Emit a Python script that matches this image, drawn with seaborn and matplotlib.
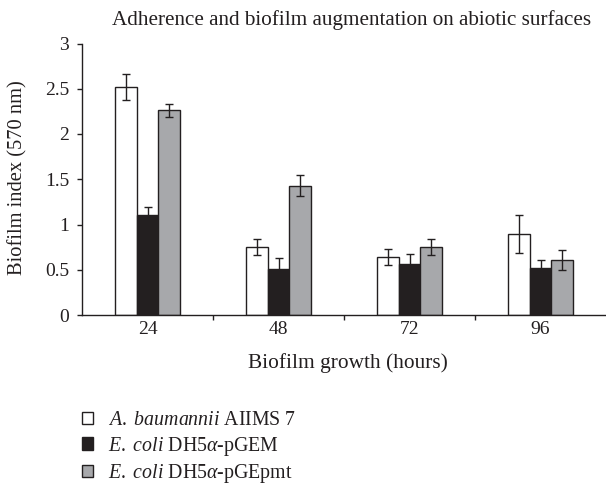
import matplotlib
matplotlib.use("Agg")
import matplotlib.pyplot as plt
import seaborn as sns
import pandas as pd
from matplotlib.patches import Patch

hours = ["24", "48", "72", "96"]
strains = ["A. baumannii AIIMS 7", "E. coli DH5a-pGEM", "E. coli DH5a-pGEpmt"]
abaum = [2.52, 0.75, 0.64, 0.89]
abaum_err = [0.14, 0.09, 0.09, 0.21]
pgem = [1.10, 0.51, 0.56, 0.52]
pgem_err = [0.09, 0.12, 0.11, 0.09]
pgepmt = [2.26, 1.43, 0.75, 0.61]
pgepmt_err = [0.07, 0.12, 0.09, 0.11]
colors = ["#ffffff", "#231f20", "#a7a8ab"]
legend_labels = [r"$\it{A.\ baumannii}$ AIIMS 7",
                 r"$\it{E.\ coli}$ DH5$\it{\alpha}$-pGEM",
                 r"$\it{E.\ coli}$ DH5$\it{\alpha}$-pGEpmt"]
yticks = [0, 0.5, 1, 1.5, 2, 2.5, 3]
ytick_labels = ["0", "0.5", "1", "1.5", "2", "2.5", "3"]

sns.set_style("white")
plt.rcParams['font.family'] = ['Liberation Serif', 'DejaVu Serif']
plt.rcParams['mathtext.fontset'] = 'custom'
plt.rcParams['mathtext.rm'] = 'Liberation Serif'
plt.rcParams['mathtext.it'] = 'Liberation Serif:italic'

df = pd.DataFrame({
    "hour": hours * 3,
    "strain": [strains[0]] * 4 + [strains[1]] * 4 + [strains[2]] * 4,
    "value": abaum + pgem + pgepmt,
})
errs = [abaum_err, pgem_err, pgepmt_err]

W, H = 606, 488
fig = plt.figure(figsize=(W / 100, H / 100), dpi=100)
x0, x1, y0, y1 = 82, 606, 315, 43.5
ax = fig.add_axes([x0 / W, 1 - y0 / H, (x1 - x0) / W, (y0 - y1) / H])
sns.barplot(data=df, x="hour", y="value", hue="strain", order=hours,
            hue_order=strains, palette=colors, width=0.5, edgecolor="#231f20",
            linewidth=1.0, errorbar=None, ax=ax, legend=False, saturation=1)

for cont, err, vals in zip(ax.containers, errs, [abaum, pgem, pgepmt]):
    xs = [p.get_x() + p.get_width() / 2 for p in cont.patches]
    ax.errorbar(xs, vals, yerr=err, fmt="none", ecolor="#231f20",
                elinewidth=1.0, capsize=2.6, capthick=1.0)

ax.set_xlim(-0.5, 3.5)
ax.set_ylim(0, 3)
ax.set_yticks(yticks)
ax.set_yticklabels(ytick_labels)
ax.set_xticks([0.5, 1.5, 2.5], minor=True)
ax.tick_params(axis="x", which="major", length=0, labelsize=14, pad=4, labelcolor="#231f20")
ax.tick_params(axis="x", which="minor", length=3.5, width=1, direction="out", color="#231f20", bottom=True)
ax.tick_params(axis="y", length=3.3, width=1, direction="out", labelsize=14, pad=6,
               color="#231f20", left=True, labelcolor="#231f20")
for s in ["top", "right"]:
    ax.spines[s].set_visible(False)
for s in ["left", "bottom"]:
    ax.spines[s].set_color("#231f20")
    ax.spines[s].set_linewidth(1)

axw, axh = x1 - x0, y0 - y1
xl = ax.set_xlabel("Biofilm growth (hours)", fontsize=15, color="#231f20")
ax.xaxis.set_label_coords((347.5 - x0) / axw, (y0 - 363) / axh)
xl.set_va("center")
yl = ax.set_ylabel("Biofilm index (570 nm)", fontsize=15, color="#231f20")
ax.yaxis.set_label_coords((18 - x0) / axw, 0.5 + (y0 - 178 - axh / 2) / axh)
yl.set_va("center")
tl = ax.set_title("Adherence and biofilm augmentation on abiotic surfaces", fontsize=15,
                  x=(352 - x0) / axw, y=(y0 - 20) / axh, pad=0, va="center", color="#231f20")

handles = [Patch(facecolor=c, edgecolor="#231f20", linewidth=1) for c in colors]

def make_legend(fs, ls, top):
    px = fs * 100 / 72
    return fig.legend(handles, legend_labels, loc="upper left",
                      bbox_to_anchor=(82 / W, 1 - top / H),
                      frameon=False, fontsize=fs, handlelength=11 / px, handleheight=11 / px,
                      handletextpad=15 / px, labelspacing=ls, borderaxespad=0, borderpad=0,
                      labelcolor="#231f20")

leg_fs, leg_ls, leg_top = 15.0, 0.2, 405.0
leg = make_legend(leg_fs, leg_ls, leg_top)

# fit text sizes / legend placement to the reference's measured extents
fig.canvas.draw()
r = fig.canvas.get_renderer()
for _ in range(3):
    for art, target, dim in [(tl, 481, "w"), (xl, 199, "w"), (yl, 195, "h")]:
        bb = art.get_window_extent(r)
        cur = bb.width if dim == "w" else bb.height
        art.set_fontsize(art.get_fontsize() * target / cur)
    bb = leg.get_texts()[0].get_window_extent(r)
    leg_fs = leg_fs * 188 / bb.width
    centers = []
    for h in leg.legend_handles:
        hb = h.get_window_extent(r)
        centers.append(H - (hb.y0 + hb.y1) / 2)
    spacing = (centers[2] - centers[0]) / 2
    leg_ls += (26.5 - spacing) / (leg_fs * 100 / 72)
    leg_top += 418 - centers[0]
    leg.remove()
    leg = make_legend(leg_fs, leg_ls, leg_top)
    fig.canvas.draw()

fig.savefig("out.png", dpi=100)
